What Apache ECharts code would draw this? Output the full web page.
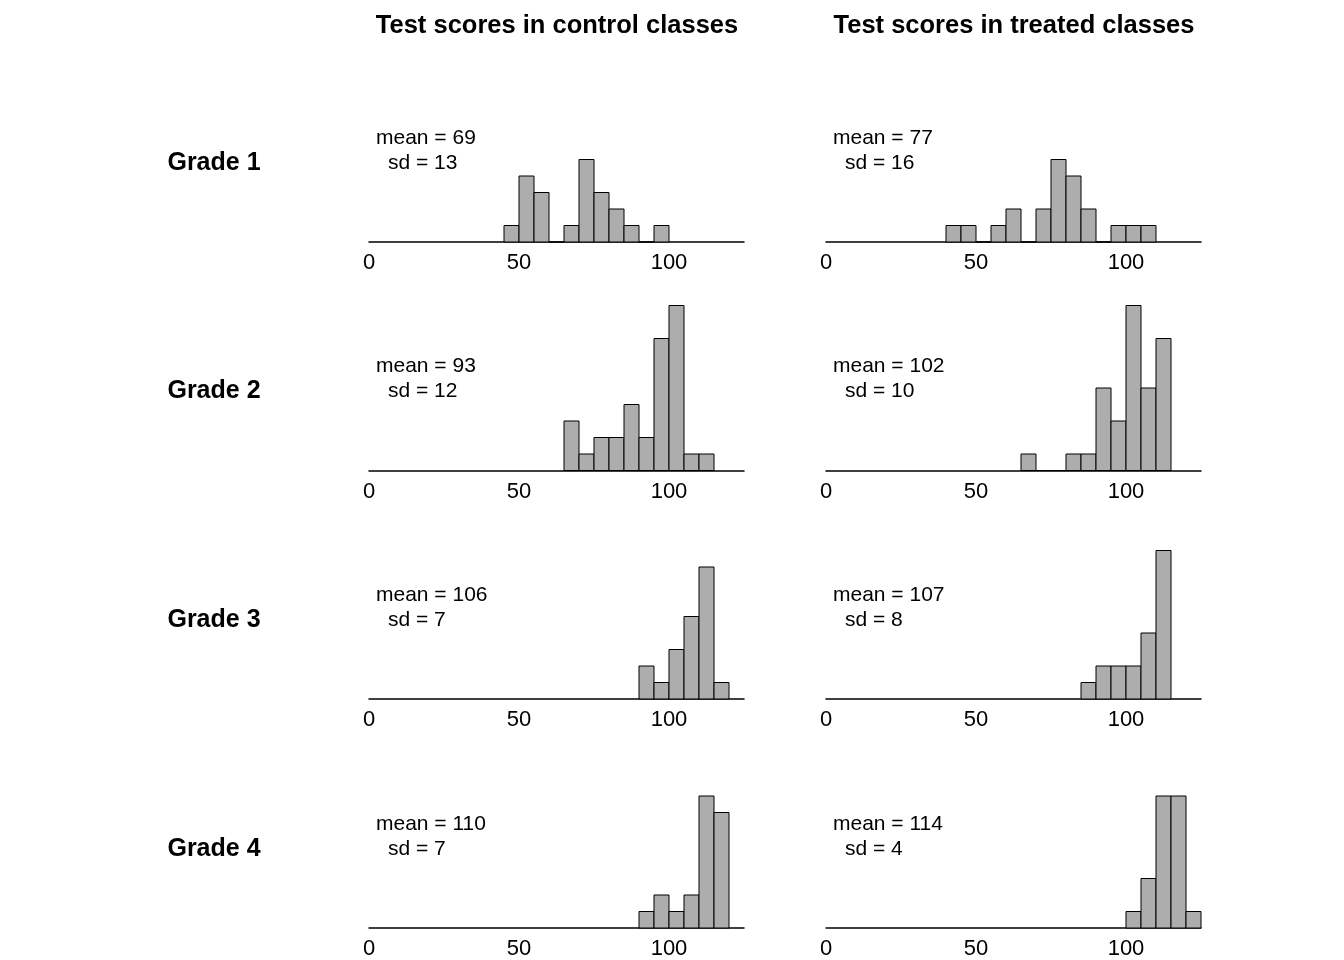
<!DOCTYPE html>
<html>
<head>
<meta charset="utf-8">
<script src="https://cdn.jsdelivr.net/npm/echarts@6/dist/echarts.min.js"></script>
<style>
  html, body { margin: 0; padding: 0; background: #ffffff; }
  #chart { width: 1344px; height: 960px; }
</style>
</head>
<body>
<div id="chart"></div>
<script>
// ---- Data ----
const columnTitles = ['Test scores in control classes', 'Test scores in treated classes'];
const gradeLabels = ['Grade 1', 'Grade 2', 'Grade 3', 'Grade 4'];
const binWidth = 5;
const xTicks = [0, 50, 100];

// control classes: first bin start and counts per 5-point bin
const controlBinStarts = [45, 65, 90, 90];
const controlG1 = [1, 4, 3, 0, 1, 5, 3, 2, 1, 0, 1];
const controlG2 = [3, 1, 2, 2, 4, 2, 8, 10, 1, 1];
const controlG3 = [2, 1, 3, 5, 8, 1];
const controlG4 = [1, 2, 1, 2, 8, 7];

// treated classes
const treatedBinStarts = [40, 65, 85, 100];
const treatedG1 = [1, 1, 0, 1, 2, 0, 2, 5, 4, 2, 0, 1, 1, 1];
const treatedG2 = [1, 0, 0, 1, 1, 5, 3, 10, 5, 8];
const treatedG3 = [1, 2, 2, 2, 4, 9];
const treatedG4 = [1, 3, 8, 8, 1];

const controlMeans = [69, 93, 106, 110];
const controlSds = [13, 12, 7, 7];
const treatedMeans = [77, 102, 107, 114];
const treatedSds = [16, 10, 8, 4];

// ---- Build ----
const controlCounts = [controlG1, controlG2, controlG3, controlG4];
const treatedCounts = [treatedG1, treatedG2, treatedG3, treatedG4];

const FONT = '"Liberation Sans", Arial, Helvetica, sans-serif';
const colLeft = [369, 826];
const colWidth = 375;
const baselines = [242, 470.5, 699, 928];
const plotH = 165;
const yMax = 10;

function binsToData(start, counts) {
  return counts.map((c, i) => [start + i * binWidth, start + (i + 1) * binWidth, c]);
}

const grids = [], xAxes = [], yAxes = [], series = [], graphics = [];
let idx = 0;
for (let r = 0; r < 4; r++) {
  for (let c = 0; c < 2; c++) {
    grids.push({ left: colLeft[c], width: colWidth, top: baselines[r] - plotH, height: plotH });
    xAxes.push({
      gridIndex: idx, type: 'value', min: 0, max: 125, interval: 50,
      axisLine: { show: true, onZero: false, lineStyle: { color: '#000', width: 1.5 } },
      axisTick: { show: false },
      splitLine: { show: false },
      axisLabel: {
        color: '#000', fontFamily: FONT, fontSize: 22, margin: 10,
        formatter: v => (xTicks.indexOf(v) >= 0 ? String(v) : '')
      }
    });
    yAxes.push({ gridIndex: idx, type: 'value', min: 0, max: yMax, show: false });
    const start = c === 0 ? controlBinStarts[r] : treatedBinStarts[r];
    const counts = c === 0 ? controlCounts[r] : treatedCounts[r];
    series.push({
      type: 'custom',
      xAxisIndex: idx, yAxisIndex: idx,
      data: binsToData(start, counts),
      encode: { x: [0, 1], y: 2 },
      renderItem: function (params, api) {
        const p0 = api.coord([api.value(0), api.value(2)]);
        const p1 = api.coord([api.value(1), 0]);
        return {
          type: 'rect',
          shape: { x: p0[0], y: p0[1], width: p1[0] - p0[0], height: p1[1] - p0[1] },
          style: { fill: '#adadad', stroke: '#000', lineWidth: 1 }
        };
      },
      silent: true
    });
    const mean = c === 0 ? controlMeans[r] : treatedMeans[r];
    const sd = c === 0 ? controlSds[r] : treatedSds[r];
    graphics.push({
      type: 'text', x: colLeft[c] + 7, y: baselines[r] - 104,
      style: { text: 'mean = ' + mean, font: '21px ' + FONT, fill: '#000', verticalAlign: 'middle' }
    });
    graphics.push({
      type: 'text', x: colLeft[c] + 19, y: baselines[r] - 79,
      style: { text: 'sd = ' + sd, font: '21px ' + FONT, fill: '#000', verticalAlign: 'middle' }
    });
    idx++;
  }
}

for (let r = 0; r < 4; r++) {
  graphics.push({
    type: 'text', x: 214, y: baselines[r] - 79,
    style: { text: gradeLabels[r], font: 'bold 25px ' + FONT, fill: '#000', align: 'center', verticalAlign: 'middle' }
  });
}
const titleCenters = [557, 1014];
for (let c = 0; c < 2; c++) {
  graphics.push({
    type: 'text', x: titleCenters[c], y: 26,
    style: { text: columnTitles[c], font: 'bold 25.5px ' + FONT, fill: '#000', align: 'center', verticalAlign: 'middle' }
  });
}

const chart = echarts.init(document.getElementById('chart'), null, { renderer: 'canvas' });
chart.setOption({
  backgroundColor: '#ffffff',
  animation: false,
  grid: grids,
  xAxis: xAxes,
  yAxis: yAxes,
  series: series,
  graphic: graphics
});
</script>
</body>
</html>
